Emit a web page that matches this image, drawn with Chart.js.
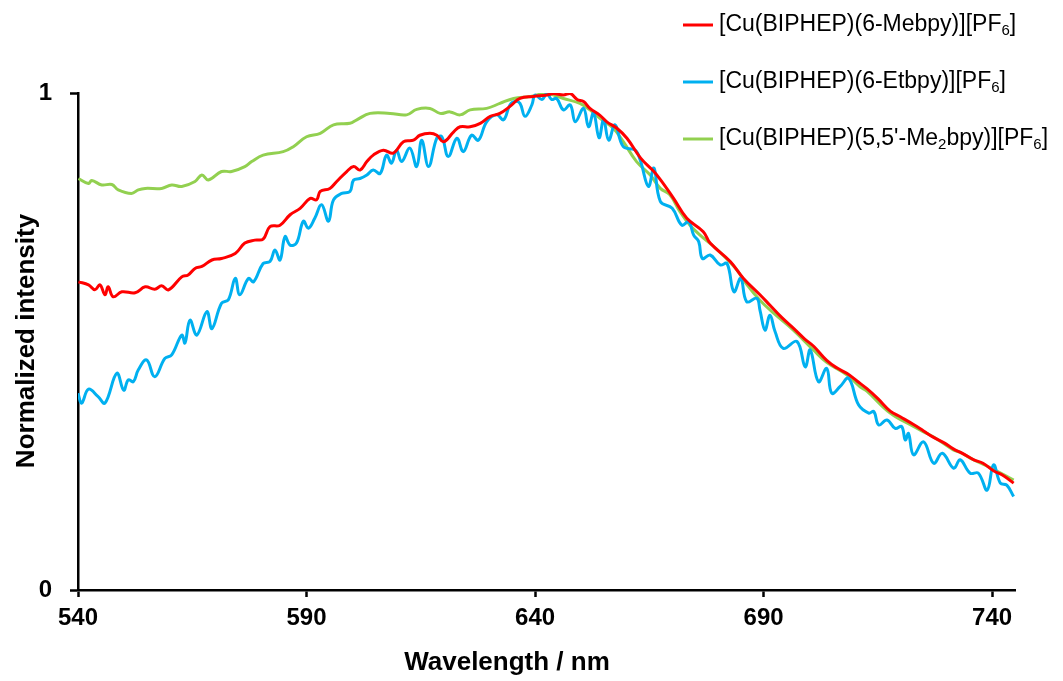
<!DOCTYPE html>
<html lang="en">
<head>
  <meta charset="UTF-8" />
  <title>Normalized emission spectra</title>
  <script src="https://cdn.jsdelivr.net/npm/chart.js"></script>
  <style>
    body {
      margin: 0;
      background: #ffffff;
    }
    #wrap {
      width: 1063px;
      height: 681px;
    }
  </style>
</head>
<body>
  <div id="wrap">
    <canvas id="spectra" width="1063" height="681"></canvas>
  </div>

<script>
  // tick labels
  const xTicks = [540, 590, 640, 690, 740];
  const yTicks = [0, 1];

  const xTitle = 'Wavelength / nm';
  const yTitle = 'Normalized intensity';

  const seriesLabels = [
    '[Cu(BIPHEP)(6-Mebpy)][PF₆]',
    '[Cu(BIPHEP)(6-Etbpy)][PF₆]',
    "[Cu(BIPHEP)(5,5'-Me₂bpy)][PF₆]"
  ];

  // red: 6-Mebpy
  const redNm = [540.1, 542.3, 543.7, 544.8, 545.9, 546.6, 547.7, 549.6, 552.5, 554.7, 556.8, 558.3, 559.8,
    562.7, 564.1, 565.6, 567.1, 569.3, 571.4, 574.4, 576.5, 578.7, 580.5, 582.0, 584.2, 586.4, 588.6,
    590.8, 592.2, 593.0, 595.1, 596.6, 598.8, 600.3, 601.7, 603.2, 604.6, 606.8, 609.0, 611.2, 613.4,
    614.8, 617.0, 618.5, 620.0, 622.2, 623.6, 625.8, 628.0, 630.2, 632.3, 634.5, 636.7, 639.6, 642.6,
    644.0, 646.2, 647.7, 649.2, 650.6, 652.0, 654.2, 655.7, 657.9, 660.1, 663.1, 666.0, 667.7, 670.3,
    673.2, 676.8, 678.3, 682.7, 685.6, 689.2, 691.4, 694.0, 696.5, 699.0, 701.0, 703.8, 706.0, 708.2,
    710.5, 712.6, 715.0, 717.7, 720.0, 722.8, 725.0, 727.2, 729.5, 731.5, 733.5, 736.0, 738.0, 740.3,
    742.5, 744.7];
  const redVal = [0.620, 0.614, 0.604, 0.614, 0.594, 0.610, 0.590, 0.600, 0.598, 0.610, 0.605, 0.612, 0.604,
    0.630, 0.634, 0.647, 0.651, 0.664, 0.667, 0.677, 0.698, 0.704, 0.706, 0.731, 0.734, 0.755, 0.768,
    0.788, 0.785, 0.802, 0.808, 0.822, 0.842, 0.852, 0.845, 0.862, 0.875, 0.885, 0.879, 0.902, 0.905,
    0.915, 0.919, 0.915, 0.902, 0.922, 0.932, 0.932, 0.939, 0.953, 0.959, 0.973, 0.989, 0.993, 0.996,
    0.999, 0.996, 0.999, 0.987, 0.983, 0.969, 0.955, 0.942, 0.929, 0.909, 0.869, 0.842, 0.822, 0.788,
    0.748, 0.721, 0.698, 0.661, 0.627, 0.594, 0.573, 0.548, 0.527, 0.505, 0.490, 0.462, 0.447, 0.436,
    0.420, 0.405, 0.385, 0.360, 0.348, 0.333, 0.320, 0.307, 0.296, 0.284, 0.275, 0.262, 0.255, 0.240,
    0.230, 0.215];

  // blue: 6-Etbpy
  const blueNm = [540.0, 540.8, 542.3, 544.4, 545.9, 548.5, 550.0, 551.0, 552.1, 553.2, 555.0, 556.8, 559.0,
    560.5, 562.7, 563.4, 564.5, 566.0, 568.2, 569.3, 571.4, 572.9, 574.4, 575.4, 577.3, 578.4, 580.5,
    582.0, 583.1, 584.2, 585.3, 586.4, 587.8, 589.3, 590.4, 591.8, 593.3, 594.8, 595.9, 597.7, 599.5,
    600.3, 601.7, 603.2, 604.6, 606.1, 607.5, 608.6, 609.7, 610.8, 612.6, 614.1, 615.2, 616.7, 618.5,
    619.6, 621.0, 622.9, 624.3, 626.1, 627.6, 629.4, 631.6, 633.1, 634.5, 635.6, 636.7, 637.8, 639.3,
    640.0, 641.5, 642.6, 643.6, 644.7, 646.2, 647.7, 648.8, 650.6, 651.7, 652.8, 654.0, 655.0, 656.1,
    657.5, 659.3, 661.9, 663.0, 664.8, 666.0, 667.4, 670.0, 672.1, 673.6, 674.7, 675.8, 676.6, 678.3,
    680.5, 682.0, 683.5, 685.0, 686.3, 688.5, 689.2, 690.3, 691.4, 692.5, 694.3, 697.3, 699.1, 700.2,
    702.0, 703.8, 704.9, 706.7, 708.6, 710.8, 713.0, 714.1, 715.2, 717.0, 718.8, 720.2, 721.0, 721.7,
    722.8, 725.0, 727.2, 729.1, 731.6, 733.0, 735.2, 737.0, 738.9, 740.3, 741.8, 743.2, 744.7];
  const blueVal = [0.396, 0.376, 0.404, 0.389, 0.376, 0.436, 0.402, 0.423, 0.419, 0.443, 0.463, 0.429, 0.466,
    0.473, 0.513, 0.497, 0.543, 0.513, 0.560, 0.526, 0.577, 0.584, 0.627, 0.594, 0.627, 0.620, 0.657,
    0.661, 0.684, 0.664, 0.711, 0.694, 0.698, 0.742, 0.728, 0.748, 0.775, 0.742, 0.785, 0.798, 0.802,
    0.825, 0.828, 0.835, 0.845, 0.838, 0.875, 0.859, 0.885, 0.862, 0.889, 0.852, 0.905, 0.852, 0.909,
    0.912, 0.872, 0.909, 0.882, 0.915, 0.905, 0.942, 0.956, 0.946, 0.976, 0.983, 0.979, 0.953, 0.976,
    0.996, 0.987, 0.999, 0.987, 0.989, 0.966, 0.976, 0.942, 0.969, 0.932, 0.960, 0.910, 0.946, 0.905,
    0.936, 0.892, 0.885, 0.865, 0.812, 0.849, 0.782, 0.768, 0.734, 0.741, 0.714, 0.701, 0.667, 0.674,
    0.654, 0.657, 0.600, 0.627, 0.580, 0.587, 0.563, 0.523, 0.553, 0.520, 0.486, 0.500, 0.449, 0.483,
    0.419, 0.446, 0.396, 0.409, 0.426, 0.372, 0.356, 0.359, 0.332, 0.342, 0.325, 0.329, 0.302, 0.315,
    0.272, 0.298, 0.255, 0.275, 0.245, 0.262, 0.235, 0.235, 0.201, 0.252, 0.215, 0.211, 0.188];

  // green: 5,5'-Me2bpy
  const greenNm = [540.1, 542.3, 543.0, 545.2, 547.4, 548.8, 551.7, 553.2, 554.7, 558.3, 560.5, 562.7, 565.6,
    567.1, 568.5, 571.4, 573.6, 576.5, 578.0, 580.5, 584.9, 587.1, 590.0, 593.0, 595.9, 599.5, 601.0,
    603.9, 608.3, 611.9, 614.1, 617.0, 619.2, 621.4, 623.6, 625.8, 629.4, 632.3, 635.3, 639.0, 642.6,
    646.2, 649.8, 652.0, 654.2, 657.1, 659.3, 662.2, 665.2, 667.4, 669.5, 671.7, 673.9, 676.1, 679.7,
    683.8, 686.3, 689.2, 692.2, 696.5, 700.9, 703.8, 708.2, 711.1, 712.6, 717.7, 722.8, 725.7, 727.2,
    731.5, 733.0, 735.9, 740.3, 744.7];
  const greenVal = [0.828, 0.818, 0.824, 0.815, 0.816, 0.805, 0.798, 0.805, 0.808, 0.808, 0.815, 0.812, 0.822,
    0.835, 0.825, 0.842, 0.842, 0.852, 0.862, 0.875, 0.882, 0.892, 0.912, 0.919, 0.936, 0.939, 0.946,
    0.959, 0.959, 0.956, 0.967, 0.969, 0.959, 0.962, 0.956, 0.966, 0.969, 0.979, 0.989, 0.993, 0.999,
    0.989, 0.979, 0.966, 0.949, 0.929, 0.902, 0.862, 0.835, 0.808, 0.795, 0.761, 0.734, 0.714, 0.686,
    0.648, 0.615, 0.583, 0.557, 0.523, 0.483, 0.458, 0.433, 0.409, 0.400, 0.356, 0.329, 0.315, 0.308,
    0.282, 0.277, 0.262, 0.243, 0.221];

  const colors = ['#ff0000', '#00b0f0', '#92d050'];
  const FONT = "'Liberation Sans', Arial, sans-serif";

  function pairs(xs, ys) {
    return xs.map((x, i) => ({ x: x, y: ys[i] }));
  }

  // legend and axis titles drawn by hand: subscripts sit low, titles are placed like the original
  const subMap = { '₀': '0', '₁': '1', '₂': '2', '₃': '3', '₄': '4', '₅': '5', '₆': '6', '₇': '7', '₈': '8', '₉': '9' };
  const extras = {
    id: 'extras',
    afterDraw(chart) {
      const ctx = chart.ctx;
      const rows = [25, 82, 139];
      ctx.save();
      chart.data.datasets.forEach((ds, i) => {
        const y = rows[i];
        ctx.strokeStyle = ds.borderColor;
        ctx.lineWidth = 3;
        ctx.beginPath();
        ctx.moveTo(683, y);
        ctx.lineTo(713, y);
        ctx.stroke();

        let x = 719;
        ctx.fillStyle = '#000';
        ctx.textBaseline = 'middle';
        ctx.textAlign = 'left';
        for (const ch of ds.label) {
          if (subMap[ch]) {
            ctx.font = '15px ' + FONT;
            ctx.fillText(subMap[ch], x, y + 6);
            x += ctx.measureText(subMap[ch]).width;
          } else {
            ctx.font = '23px ' + FONT;
            ctx.fillText(ch, x, y);
            x += ctx.measureText(ch).width;
          }
        }
      });

      ctx.fillStyle = '#000';
      ctx.font = 'bold 26px ' + FONT;
      ctx.textAlign = 'center';
      ctx.textBaseline = 'middle';
      ctx.fillText(xTitle, 507, 663);

      ctx.translate(27, 341);
      ctx.rotate(-Math.PI / 2);
      ctx.fillText(yTitle, 0, 0);
      ctx.restore();
    }
  };

  const ctx = document.getElementById('spectra').getContext('2d');
  const chart = new Chart(ctx, {
    type: 'line',
    data: {
      datasets: [
        { label: seriesLabels[0], data: pairs(redNm, redVal), borderColor: colors[0] },
        { label: seriesLabels[1], data: pairs(blueNm, blueVal), borderColor: colors[1] },
        { label: seriesLabels[2], data: pairs(greenNm, greenVal), borderColor: colors[2] }
      ].map(d => Object.assign(d, {
        borderWidth: 3,
        pointRadius: 0,
        tension: 0.4,
        fill: false
      }))
    },
    options: {
      responsive: false,
      animation: false,
      layout: { padding: { top: 93, right: 48, left: 0, bottom: 0 } },
      plugins: {
        legend: { display: false },
        tooltip: { enabled: false }
      },
      scales: {
        x: {
          type: 'linear',
          min: 540,
          max: 745,
          afterBuildTicks: s => { s.ticks = xTicks.map(v => ({ value: v })); },
          afterFit: s => { s.height = 91; },
          border: { color: '#000', width: 2.5 },
          grid: { drawOnChartArea: false, drawTicks: true, tickLength: 7, tickColor: '#000', tickWidth: 2.5 },
          ticks: { color: '#000', font: { family: FONT, size: 24, weight: 'bold' }, padding: 7, maxRotation: 0 }
        },
        y: {
          min: 0,
          max: 1,
          afterBuildTicks: s => { s.ticks = yTicks.map(v => ({ value: v })); },
          afterFit: s => { s.width = 78; },
          border: { color: '#000', width: 2.5 },
          grid: { drawOnChartArea: false, drawTicks: true, tickLength: 8, tickColor: '#000', tickWidth: 2.5 },
          ticks: { color: '#000', font: { family: FONT, size: 24, weight: 'bold' }, padding: 18 }
        }
      }
    },
    plugins: [extras]
  });
</script>

</body>
</html>
